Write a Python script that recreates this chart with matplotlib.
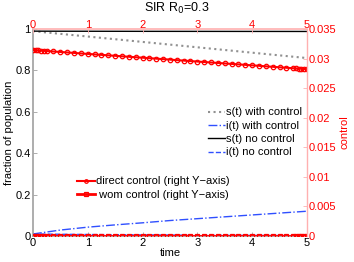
import numpy as np
import matplotlib
matplotlib.use("Agg")
import matplotlib.pyplot as plt

plt.rcParams['font.family'] = ['Liberation Sans', 'DejaVu Sans']
plt.rcParams['font.size'] = 8

# state trajectories (left axis)
t_state = [0.0, 0.5, 1.0, 1.5, 2.0, 2.5, 3.0, 3.5, 4.0, 4.5, 5.0]
s_with = [0.990, 0.977, 0.964, 0.951, 0.938, 0.925, 0.912, 0.899, 0.886, 0.873, 0.860]
i_with = [0.010, 0.029, 0.043, 0.054, 0.064, 0.075, 0.084, 0.093, 0.102, 0.111, 0.120]
s_none = [0.990, 0.9897, 0.9895, 0.9893, 0.9891, 0.9890, 0.9889, 0.9888, 0.9887, 0.9886, 0.9885]
i_none = [0.010, 0.0086, 0.0075, 0.0065, 0.0056, 0.0049, 0.0042, 0.0036, 0.0031, 0.0027, 0.0023]

# control trajectories (right axis)
t_ctrl = [0.0, 0.05, 0.1, 0.15, 0.2, 0.25, 0.375, 0.5, 0.625, 0.75, 0.875, 1.0,
          1.125, 1.25, 1.375, 1.5, 1.625, 1.75, 1.875, 2.0, 2.125, 2.25, 2.375,
          2.5, 2.625, 2.75, 2.875, 3.0, 3.125, 3.25, 3.375, 3.5, 3.625, 3.75,
          3.875, 4.0, 4.125, 4.25, 4.375, 4.5, 4.625, 4.75, 4.8, 4.85, 4.9,
          4.95, 5.0]
direct_ctrl = [0.03145, 0.03142, 0.03139, 0.03135, 0.03132, 0.03129, 0.03121,
               0.03113, 0.03105, 0.03097, 0.03088, 0.03080, 0.03072, 0.03064,
               0.03056, 0.03048, 0.03040, 0.03032, 0.03024, 0.03016, 0.03008,
               0.03000, 0.02992, 0.02984, 0.02975, 0.02967, 0.02959, 0.02951,
               0.02943, 0.02935, 0.02927, 0.02919, 0.02911, 0.02903, 0.02895,
               0.02887, 0.02879, 0.02870, 0.02862, 0.02854, 0.02846, 0.02838,
               0.02835, 0.02832, 0.02828, 0.02825, 0.02822]
wom_ctrl = [0.0] * len(t_ctrl)

left_ticks = [0, 0.2, 0.4, 0.6, 0.8, 1]
left_labels = ['0', '0.2', '0.4', '0.6', '0.8', '1']
right_ticks = [0, 0.005, 0.01, 0.015, 0.02, 0.025, 0.03, 0.035]
right_labels = ['0', '0.005', '0.01', '0.015', '0.02', '0.025', '0.03', '0.035']
x_ticks = [0, 1, 2, 3, 4, 5]

fig = plt.figure(figsize=(3.54, 2.62), dpi=100)
pos = [0.093, 0.099, 0.774, 0.790]
ax = fig.add_axes(pos)
ax2 = fig.add_axes(pos, frameon=False)

gray = '#a0a0a0'
pink = '#ffb0b0'
blue = '#3050ff'

# left axis curves
ax.plot(t_state, s_with, color='#909090', ls=':', lw=1.5, label='s(t) with control')
ax.plot(t_state, i_with, color=blue, ls='-.', lw=1.0, label='i(t) with control')
ax.plot(t_state, s_none, color='k', ls='-', lw=1.0, label='s(t) no control')
ax.plot(t_state, i_none, color=blue, ls='--', lw=1.0, label='i(t) no control')
ax.set_xlim(0, 5)
ax.set_ylim(0, 1)
ax.set_xticks(x_ticks)
ax.set_yticks(left_ticks)
ax.set_yticklabels(left_labels)
ax.tick_params(direction='in', length=3, width=0.6, colors='k', pad=1.5,
               labelsize=8)
ax.tick_params(axis='both', color=gray)
for side in ['left', 'bottom']:
    ax.spines[side].set_color(gray)
    ax.spines[side].set_linewidth(1.2)
for side in ['right', 'top']:
    ax.spines[side].set_visible(False)
ax.set_xlabel('time', labelpad=0)
ax.set_ylabel('fraction of population', labelpad=1)
ax.legend(loc='upper left', bbox_to_anchor=(0.62, 0.648), frameon=False,
          handlelength=1.5, handletextpad=0.1, labelspacing=0.3,
          borderpad=0, fontsize=8)

# right axis (controls)
ax2.plot(t_ctrl, direct_ctrl, color='r', lw=1.5, marker='o', ms=3.2,
         mfc='none', mew=0.9, label='direct control (right Y\u2212axis)')
ax2.plot(t_ctrl, wom_ctrl, color='r', lw=2.0, marker='s', ms=3.0,
         mfc='none', mew=0.9, label=' wom control (right Y\u2212axis)')
ax2.set_xlim(0, 5)
ax2.set_ylim(0, 0.035)
ax2.xaxis.tick_top()
ax2.yaxis.tick_right()
ax2.yaxis.set_label_position('right')
ax2.set_xticks(x_ticks)
ax2.set_yticks(right_ticks)
ax2.set_yticklabels(right_labels)
ax2.tick_params(direction='in', length=3, width=0.6, color=pink,
                labelcolor='r', pad=1.5, labelsize=8)
ax2.tick_params(axis='x', pad=-1)
ax2.set_ylabel('control', color='r', rotation=90, labelpad=2)
ax2.axhline(0.035, color=pink, lw=1.2, clip_on=False)
ax2.axvline(5, color=pink, lw=1.0, clip_on=False)
ax2.legend(loc='upper left', bbox_to_anchor=(0.142, 0.315), frameon=False,
           handlelength=1.6, handletextpad=0.1, labelspacing=0.3,
           borderpad=0, fontsize=8, markerscale=0.8)

fig.text(0.5, 0.969, 'SIR R$_0$=0.3', fontsize=9, ha='center', va='center')

fig.savefig('out.png', dpi=100)
